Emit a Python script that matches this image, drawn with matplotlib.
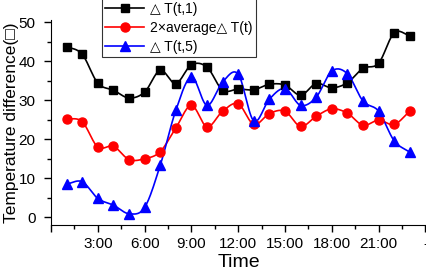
import matplotlib
matplotlib.use("Agg")
import matplotlib.pyplot as plt
import numpy as np

plt.rcParams['font.family'] = ['Liberation Sans', 'DejaVu Sans']

hours = list(range(1, 24))
dt1 = [43.8, 41.8, 34.4, 32.6, 30.6, 32.1, 37.7, 34.3, 39.1, 38.5, 32.6, 32.9,
       32.7, 34.1, 33.9, 31.3, 34.3, 33.2, 34.5, 38.2, 39.5, 47.3, 46.6]
avg2 = [25.3, 24.5, 18.0, 18.2, 14.8, 15.0, 16.8, 22.9, 28.7, 23.2, 27.2, 29.1,
        23.8, 26.6, 27.2, 23.3, 25.9, 27.8, 26.7, 23.6, 24.9, 23.8, 27.2]
dt5 = [8.5, 9.1, 4.8, 3.1, 0.9, 2.5, 13.3, 27.4, 36.0, 28.7, 34.7, 36.7,
       24.7, 30.3, 33.0, 28.7, 30.8, 37.5, 36.8, 29.8, 27.2, 19.6, 16.7]
labels = ["\u25b3 T(t,1)", "2\u00d7average\u25b3 T(t)", "\u25b3 T(t,5)"]
tick_hours = [3, 6, 9, 12, 15, 18, 21, 24]
tick_text = ["3:00", "6:00", "9:00", "12:00", "15:00", "18:00", "21:00", "-"]


def smooth(x, y, n=16):
    # catmull-rom curve through the points (Origin style spline connection)
    x = np.asarray(x, float)
    y = np.asarray(y, float)
    px = np.concatenate([[2 * x[0] - x[1]], x, [2 * x[-1] - x[-2]]])
    py = np.concatenate([[2 * y[0] - y[1]], y, [2 * y[-1] - y[-2]]])
    t = np.linspace(0, 1, n, endpoint=False)
    xs, ys = [], []
    for i in range(1, len(px) - 2):
        for p, out in ((px, xs), (py, ys)):
            p0, p1, p2, p3 = p[i - 1], p[i], p[i + 1], p[i + 2]
            out.extend(0.5 * (2 * p1 + (-p0 + p2) * t
                              + (2 * p0 - 5 * p1 + 4 * p2 - p3) * t ** 2
                              + (-p0 + 3 * p1 - 3 * p2 + p3) * t ** 3))
    xs.append(x[-1])
    ys.append(y[-1])
    return np.array(xs), np.array(ys)


fig = plt.figure(figsize=(4.26, 2.76), dpi=100)
ax = fig.add_axes([51 / 426, 1 - 225 / 276, 1 - 51 / 426, (225 - 20) / 276])

series = [(dt1, 'black', 's', 6), (avg2, 'red', 'o', 6.5), (dt5, 'blue', '^', 7)]
handles = []
for vals, col, mk, ms in series:
    sx, sy = smooth(hours, vals)
    ax.plot(sx, sy, color=col, lw=1.2, zorder=2)
    ax.plot(hours, vals, linestyle='none', marker=mk, color=col, ms=ms, zorder=3)
    h, = ax.plot([], [], color=col, lw=1.2, marker=mk, ms=ms)
    handles.append(h)

ax.set_xlim(0, (426 - 51) / 15.6)
ax.set_ylim(-2, 50.6)
ax.set_xticks([0] + tick_hours)
ax.set_xticklabels([""] + tick_text)
ax.set_xticks(np.arange(1.5, 24, 3), minor=True)
ax.set_yticks([0, 10, 20, 30, 40, 50])
ax.set_yticks([5, 15, 25, 35, 45], minor=True)
ax.tick_params(labelsize=11, direction='out', length=5, width=1)
ax.tick_params(axis='y', pad=6)
ax.tick_params(which='minor', direction='out', length=3, width=1)
ax.spines['top'].set_visible(False)
ax.spines['right'].set_visible(False)
ax.set_xlabel("Time", fontsize=14, labelpad=2)
ax.set_ylabel("Temperature difference(\u25a1)", fontsize=12.5, labelpad=0)

leg = fig.legend(handles, labels, loc='lower left', bbox_to_anchor=(102 / 426, 1 - 57 / 276),
                 frameon=True, fancybox=False, edgecolor='black', fontsize=10,
                 handlelength=2.8, handletextpad=0.4, borderpad=0.25, labelspacing=0.35,
                 borderaxespad=0)
leg.get_frame().set_linewidth(0.8)

fig.savefig("out.png", dpi=100)
